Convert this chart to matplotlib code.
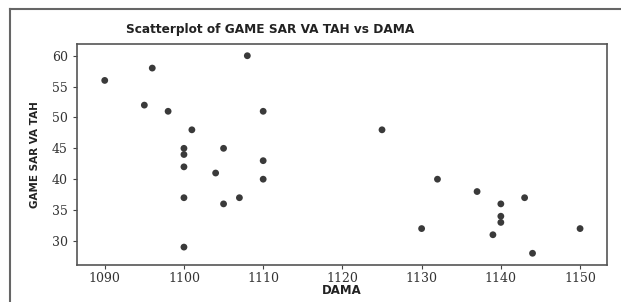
import matplotlib.pyplot as plt
from matplotlib.lines import Line2D

dama = [1090, 1096, 1108, 1095, 1098, 1110, 1101, 1100, 1100, 1105,
        1100, 1110, 1104, 1110, 1100, 1107, 1105, 1100,
        1125, 1132, 1130, 1137, 1143, 1140, 1140, 1140, 1139, 1144, 1150]
sar = [56, 58, 60, 52, 51, 51, 48, 45, 44, 45,
       42, 43, 41, 40, 37, 37, 36, 29,
       48, 40, 32, 38, 37, 36, 34, 33, 31, 28, 32]

xticks = [1090, 1100, 1110, 1120, 1130, 1140, 1150]
yticks = [30, 35, 40, 45, 50, 55, 60]

fig = plt.figure(figsize=(6.21, 3.02), dpi=100)
ax = fig.add_axes([77/621, 1-265/302, 530/621, 221/302])

ax.scatter(dama, sar, s=24, color='#3a3a3a', edgecolors='none', zorder=3)

ax.set_xlim(1086.5, 1153.4)
ax.set_ylim(26.1, 61.9)
ax.set_xticks(xticks)
ax.set_yticks(yticks)
ax.tick_params(direction='out', length=3, width=0.8, color='#444',
               labelsize=9, labelcolor='#333')
ax.tick_params(axis='x', pad=2)
for lab in ax.get_xticklabels() + ax.get_yticklabels():
    lab.set_family('DejaVu Serif')
for s in ax.spines.values():
    s.set_color('#555')
    s.set_linewidth(1.2)

ax.set_xlabel('DAMA', fontsize=8.5, fontweight='bold', color='#222', va='center')
ax.xaxis.set_label_coords(0.5, -0.117)
ax.set_ylabel('GAME SAR VA TAH', fontsize=7.5, fontweight='bold', color='#222',
              va='center')
ax.yaxis.set_label_coords(-0.079, 0.5)

fig.text(270/621, 1-30/302, 'Scatterplot of GAME SAR VA TAH vs DAMA',
         ha='center', va='center', fontsize=8.7, fontweight='bold', color='#222')

# outer frame
fig.add_artist(Line2D([10/621, 1], [1-9/302, 1-9/302], transform=fig.transFigure,
                      color='#666', lw=1.5))
fig.add_artist(Line2D([10/621, 10/621], [0, 1-9/302], transform=fig.transFigure,
                      color='#666', lw=1.5))

fig.savefig('out.png', dpi=100)
